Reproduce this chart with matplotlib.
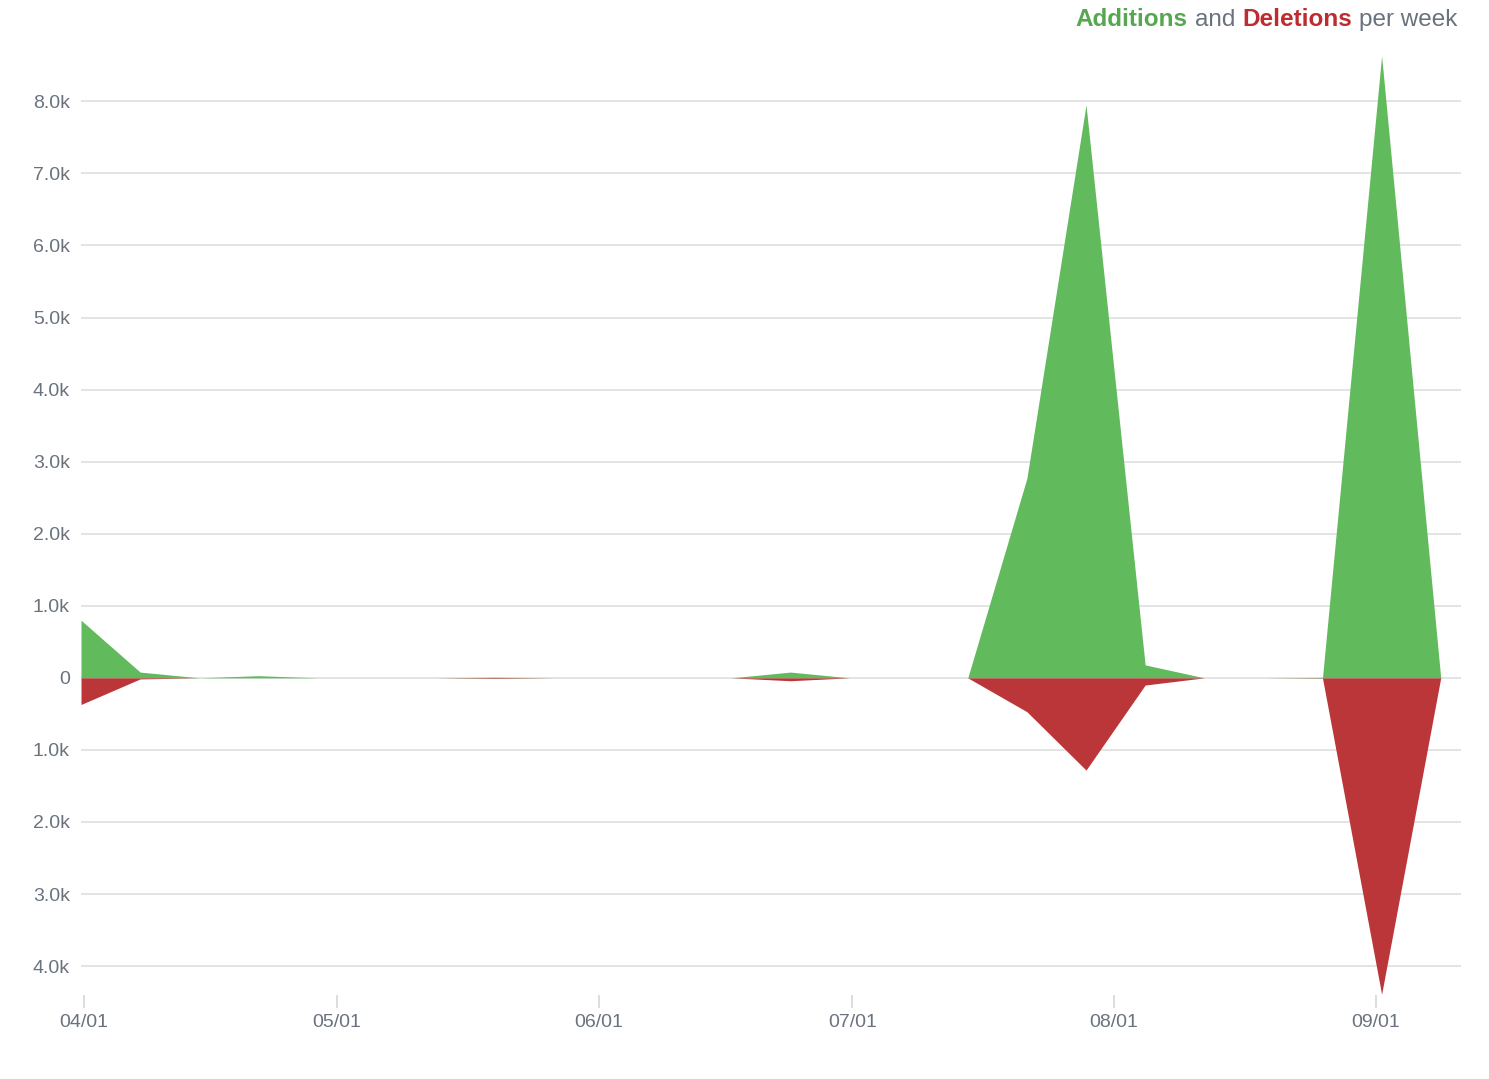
import numpy as np
import pandas as pd
import matplotlib
matplotlib.use("Agg")
import matplotlib.pyplot as plt
import matplotlib.dates as mdates
from matplotlib.ticker import FuncFormatter

plt.rcParams['font.family'] = ['Liberation Sans', 'DejaVu Sans']

# weekly data (GitHub code frequency)
weeks = pd.date_range('2018-04-01', periods=24, freq='7D')
additions = [800, 80, 0, 30, 0, 0, 0, 8, 0, 0, 0, 0, 80, 0, 0, 0,
             2770, 7950, 180, 0, 0, 6, 8630, 0]
deletions = [370, 15, 0, 0, 0, 0, 0, 8, 0, 0, 0, 0, 40, 0, 0, 0,
             470, 1280, 100, 0, 0, 4, 4390, 0]
y_ticks = [-4000, -3000, -2000, -1000, 0, 1000, 2000, 3000, 4000,
           5000, 6000, 7000, 8000]
x_ticks = ['2018-04-01 08:00', '2018-05-01 08:00', '2018-06-01 08:00',
           '2018-07-01 08:00', '2018-08-01 08:00', '2018-09-01 08:00']

green = '#61ba5b'
red = '#bb3639'
text_gray = '#6a737d'

fig = plt.figure(figsize=(14.89, 10.79), dpi=100)
ax = fig.add_axes([0.0544, 0.0779, 0.9268, 0.8703])

adds = np.array(additions)
dels = -np.array(deletions)
ax.fill_between(weeks, adds, 0, color=green, lw=0, zorder=3)
ax.fill_between(weeks, dels, 0, color=red, lw=0, zorder=3)

ax.set_ylim(-4400, 8630)
ax.set_xlim(weeks[0], weeks[-1] + pd.Timedelta(days=2.4))

ax.set_yticks(y_ticks)
ax.yaxis.set_major_formatter(FuncFormatter(
    lambda v, p: '0' if v == 0 else '%.1fk' % (abs(v) / 1000)))
ax.grid(axis='y', color='#e4e4e4', lw=1.4, zorder=0)
ax.set_axisbelow(True)

ax.set_xticks([mdates.date2num(pd.Timestamp(d)) for d in x_ticks])
ax.xaxis.set_major_formatter(mdates.DateFormatter('%m/%d'))

for s in ax.spines.values():
    s.set_visible(False)
ax.tick_params(axis='y', length=0, pad=8, labelsize=14, labelcolor=text_gray)
ax.tick_params(axis='x', length=9, width=1.4, color='#dddddd', pad=5,
               labelsize=14, labelcolor=text_gray)

# title built right to left
t1 = fig.text(1457 / 1489, 1 - 20 / 1079, 'per week', ha='right', va='center',
              fontsize=17.5, color=text_gray)
t2 = ax.annotate('Deletions', xy=(0, 0.5), xycoords=t1, xytext=(-5, 0),
                 textcoords='offset points', ha='right', va='center',
                 fontsize=17.5, color='#bd2c2f', fontweight='bold')
t3 = ax.annotate('and', xy=(0, 0.5), xycoords=t2, xytext=(-5, 0),
                 textcoords='offset points', ha='right', va='center',
                 fontsize=17.5, color=text_gray)
t4 = ax.annotate('Additions', xy=(0, 0.5), xycoords=t3, xytext=(-5, 0),
                 textcoords='offset points', ha='right', va='center',
                 fontsize=17.5, color='#55a84f', fontweight='bold')

fig.savefig('out.png', dpi=100, facecolor='white')
